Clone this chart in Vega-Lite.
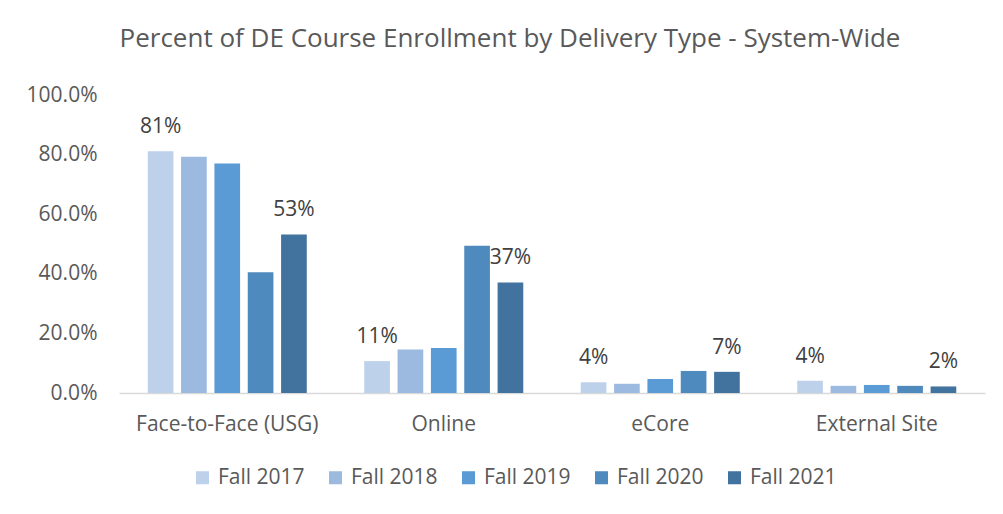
{
  "$schema": "https://vega.github.io/schema/vega-lite/v6.json",
  "width": 866,
  "height": 298,
  "autosize": {"type": "none"},
  "padding": {"left": 119, "top": 95, "right": 18, "bottom": 121},
  "background": "white",
  "config": {
    "font": "Open Sans",
    "view": {"stroke": null},
    "axis": {"grid": false, "ticks": false, "labelColor": "#595959", "labelFont": "Open Sans"}
  },
  "title": {
    "text": "Percent of DE Course Enrollment by Delivery Type - System-Wide",
    "fontSize": 26,
    "fontWeight": "normal",
    "color": "#595959",
    "anchor": "middle",
    "frame": "group",
    "dx": -42,
    "dy": 31,
    "baseline": "alphabetic",
    "offset": 42
  },
  "data": {
    "values": [
      {"type": "Face-to-Face (USG)", "year": "Fall 2017", "pct": 0.811},
      {"type": "Face-to-Face (USG)", "year": "Fall 2018", "pct": 0.793},
      {"type": "Face-to-Face (USG)", "year": "Fall 2019", "pct": 0.770},
      {"type": "Face-to-Face (USG)", "year": "Fall 2020", "pct": 0.405},
      {"type": "Face-to-Face (USG)", "year": "Fall 2021", "pct": 0.532},
      {"type": "Online", "year": "Fall 2017", "pct": 0.107},
      {"type": "Online", "year": "Fall 2018", "pct": 0.146},
      {"type": "Online", "year": "Fall 2019", "pct": 0.151},
      {"type": "Online", "year": "Fall 2020", "pct": 0.494},
      {"type": "Online", "year": "Fall 2021", "pct": 0.371},
      {"type": "eCore", "year": "Fall 2017", "pct": 0.036},
      {"type": "eCore", "year": "Fall 2018", "pct": 0.031},
      {"type": "eCore", "year": "Fall 2019", "pct": 0.047},
      {"type": "eCore", "year": "Fall 2020", "pct": 0.074},
      {"type": "eCore", "year": "Fall 2021", "pct": 0.071},
      {"type": "External Site", "year": "Fall 2017", "pct": 0.041},
      {"type": "External Site", "year": "Fall 2018", "pct": 0.024},
      {"type": "External Site", "year": "Fall 2019", "pct": 0.027},
      {"type": "External Site", "year": "Fall 2020", "pct": 0.024},
      {"type": "External Site", "year": "Fall 2021", "pct": 0.022}
    ]
  },
  "encoding": {
    "x": {
      "field": "type",
      "type": "nominal",
      "sort": ["Face-to-Face (USG)", "Online", "eCore", "External Site"],
      "scale": {"paddingInner": 0.23, "paddingOuter": 0.115},
      "axis": {"title": null, "labelAngle": 0, "labelFontSize": 21, "labelPadding": 20, "labelLimit": 0, "domainColor": "#d9d9d9", "domainWidth": 1.5}
    },
    "xOffset": {
      "field": "year",
      "type": "nominal",
      "scale": {"paddingInner": 0.23, "paddingOuter": 0.115}
    },
    "y": {
      "field": "pct",
      "type": "quantitative",
      "scale": {"domain": [0, 1], "nice": false},
      "axis": {"title": null, "format": ".1%", "values": [0, 0.2, 0.4, 0.6, 0.8, 1.0], "domain": false, "labelFontSize": 21, "labelPadding": 22}
    }
  },
  "layer": [
    {
      "mark": {"type": "bar"},
      "encoding": {
        "color": {
          "field": "year",
          "type": "nominal",
          "scale": {
            "domain": ["Fall 2017", "Fall 2018", "Fall 2019", "Fall 2020", "Fall 2021"],
            "range": ["#BDD1EB", "#9CBAE0", "#5B9BD5", "#4F8ABF", "#42729E"]
          },
          "legend": {
            "title": null,
            "orient": "none",
            "legendX": 73,
            "legendY": 372,
            "padding": 0,
            "direction": "horizontal",
            "symbolType": "square",
            "symbolSize": 170,
            "symbolStrokeWidth": 0,
            "symbolOffset": 0,
            "labelFontSize": 21,
            "labelColor": "#595959",
            "labelOffset": 5,
            "columnPadding": 20
          }
        }
      }
    },
    {
      "transform": [{"filter": "datum.year === 'Fall 2017' || datum.year === 'Fall 2021'"}],
      "mark": {"type": "text", "baseline": "alphabetic", "dy": -18, "fontSize": 21, "color": "#404040"},
      "encoding": {
        "text": {"field": "pct", "type": "quantitative", "format": ".0%"}
      }
    }
  ]
}
